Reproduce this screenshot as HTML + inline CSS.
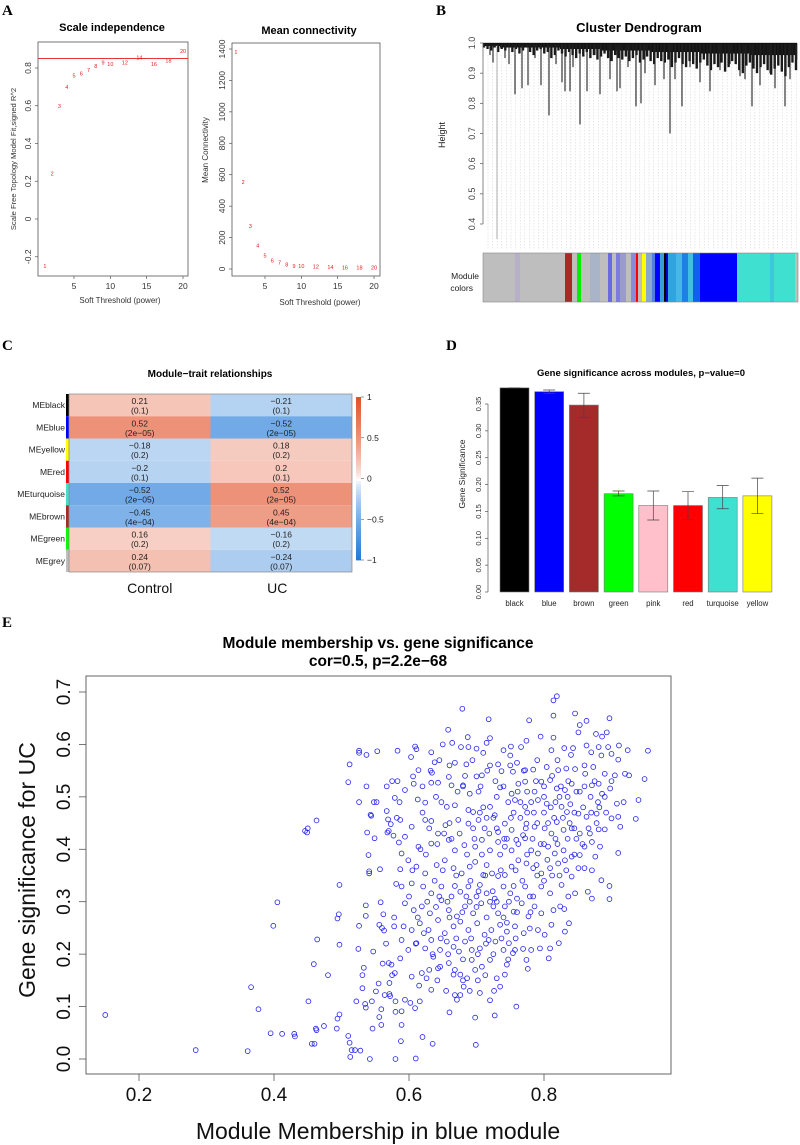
<!DOCTYPE html>
<html><head><meta charset="utf-8">
<style>
html,body{margin:0;padding:0;background:#fff;}
svg{display:block;font-family:"Liberation Sans",Arial,sans-serif;}
.pl{font-family:"Liberation Serif",serif;font-weight:bold;font-size:15px;}
</style></head>
<body>
<svg id="fig" width="800" height="1145" viewBox="0 0 800 1145" xmlns="http://www.w3.org/2000/svg">
<rect x="0" y="0" width="800" height="1145" fill="#fff"/>
<text class="pl" x="2" y="15">A</text>
<text class="pl" x="436" y="15">B</text>
<text class="pl" x="2" y="350">C</text>
<text class="pl" x="446" y="350">D</text>
<text class="pl" x="2" y="627">E</text>
<g id="pa"></g><g id="pb"></g><g id="pc"></g><g id="pd"></g><g id="pe"></g>
</svg>
<script>
// ---------- Panel A data ----------
const powers = [1,2,3,4,5,6,7,8,9,10,12,14,16,18,20];
const sftR2 = [-0.25,0.24,0.6,0.7,0.76,0.77,0.79,0.81,0.83,0.82,0.83,0.855,0.82,0.84,0.89];
const meanK = [1380,555,275,150,85,55,40,30,20,18,15,12,10,9,8];
const r2Cut = 0.85;
const aYTicks = [-0.2,0,0.2,0.4,0.6,0.8];
const kYTicks = [0,200,400,600,800,1000,1200,1400];
const powerTicks = [5,10,15,20];
// ---------- Panel B data ----------
const heightTicks = [0.4,0.5,0.6,0.7,0.8,0.9,1.0];
const leafPos = [490,493,497,505,509,515,522,528,535,541,549,556,562,565,570,573,580,587,595,600,610,617,620,628,636,641,645,655,664,670,675,682,690,700,710,720,730,740,745,752,760,770,775,785,790,796];
const leafH = [0.96,0.935,0.35,0.95,0.93,0.83,0.85,0.86,0.95,0.86,0.76,0.93,0.87,0.84,0.84,0.92,0.73,0.84,0.96,0.83,0.88,0.84,0.85,0.92,0.79,0.80,0.9,0.86,0.88,0.7,0.88,0.79,0.92,0.87,0.84,0.91,0.93,0.89,0.88,0.79,0.86,0.9,0.85,0.79,0.88,0.92];
const hairH = [0.985,0.98,0.975,0.985,0.97,0.98,0.975,0.985,0.97,0.98,0.965,0.975,0.985,0.97,0.96,0.975,0.98,0.965,0.97,0.95,0.96,0.975,0.965,0.955,0.97,0.96,0.95,0.965,0.955,0.97,0.95,0.96,0.945,0.955,0.965,0.95,0.94,0.96,0.95,0.945,0.955,0.94,0.95,0.96,0.935,0.945,0.955,0.94,0.93,0.95,0.94,0.935,0.945,0.92,0.935,0.95,0.93,0.92,0.94,0.93,0.915,0.935,0.945,0.925,0.91,0.93,0.92,0.935,0.905,0.92,0.94,0.93,0.91,0.9,0.925,0.935,0.915,0.9,0.92,0.93,0.91,0.895,0.915,0.925,0.905,0.89,0.92,0.935,0.91];
const bandStart = [483,500,560,600,650,700,750];
const bandEnd = [500,560,600,650,700,750,797];
const bandH = [0.99,0.985,0.98,0.975,0.97,0.965,0.96];
const modStart = [483,515,520,544,565,572,577,581,590,600,608,612,616,620,626,631,636,638,642,646,652,655,660,664,666,668,676,682,688,693,700,737,770,774,795];
const modEnd =   [515,520,544,565,572,577,581,590,600,608,612,616,620,626,631,636,638,642,646,652,655,660,664,666,668,676,682,688,693,700,737,770,774,795,798];
const modCol = ['#bebebe','#b8b0c8','#bebebe','#bebebe','#a52a2a','#bebebe','#00ee00','#bebebe','#a9b4c8','#bebebe','#6a6adf','#bebebe','#7b7be0','#9a9acd','#bebebe','#8a8ad6','#ff0000','#bebebe','#ffff00','#87a8d0','#4f7fdf','#0000ff','#3a9ed8','#000000','#0000cc','#2fa4e0','#48b6e6','#1e7fe6','#40c0e0','#1060f0','#0000ff','#40e0d0','#3cc8d8','#40e0d0','#bebebe'];
// ---------- Panel C data ----------
const mods = ['MEblack','MEblue','MEyellow','MEred','MEturquoise','MEbrown','MEgreen','MEgrey'];
const modColors = ['#000000','#0000ff','#ffff00','#ff0000','#40e0d0','#a52a2a','#00ff00','#bebebe'];
const corControl = [0.21,0.52,-0.18,-0.2,-0.52,-0.45,0.16,0.24];
const corUC = [-0.21,-0.52,0.18,0.2,0.52,0.45,-0.16,-0.24];
const pvals = ['(0.1)','(2e−05)','(0.2)','(0.1)','(2e−05)','(4e−04)','(0.2)','(0.07)'];
const traits = ['Control','UC'];
const legendTicks = [1,0.5,0,-0.5,-1];
// ---------- Panel D data ----------
const gsMods = ['black','blue','brown','green','pink','red','turquoise','yellow'];
const gsCols = ['#000000','#0000ff','#a52a2a','#00ff00','#ffc0cb','#ff0000','#40e0d0','#ffff00'];
const gsMean = [0.380,0.373,0.348,0.183,0.161,0.161,0.176,0.179];
const gsLo = [0.380,0.370,0.325,0.179,0.134,0.135,0.155,0.146];
const gsHi = [0.380,0.376,0.370,0.188,0.188,0.187,0.198,0.212];
const gsTicks = [0,0.05,0.1,0.15,0.2,0.25,0.3,0.35];
// ---------- Panel E data ----------
const mmTicks = [0.2,0.4,0.6,0.8];
const gsTicksE = [0,0.1,0.2,0.3,0.4,0.5,0.6,0.7];
const genePoints = [
[0.15,0.084],[0.284,0.017],[0.361,0.015],[0.366,0.137],[0.377,0.095],[0.395,0.049],[0.399,0.254],[0.405,0.299],[0.412,0.048],[0.43,0.048],[0.431,0.043],[0.446,0.435],[0.45,0.44],[0.449,0.432],[0.451,0.11],[0.456,0.029],[0.46,0.029],[0.463,0.455],[0.464,0.228],[0.459,0.181],[0.462,0.058],[0.463,0.055],[0.474,0.063],[0.48,0.16],[0.493,0.058],[0.494,0.077],[0.494,0.268],[0.496,0.276],[0.497,0.332],[0.497,0.218],[0.497,0.085],[0.51,0.044],[0.512,0.031],[0.513,0.004],[0.512,0.562],[0.51,0.528],[0.515,0.017],[0.52,0.017],[0.522,0.11],[0.525,0.21],[0.526,0.254],[0.526,0.49],[0.526,0.588],[0.526,0.584],[0.528,0.016],[0.531,0.16],[0.531,0.135],[0.533,0.174],[0.535,0.105],[0.536,0.098],[0.536,0.293],[0.536,0.273],[0.537,0.58],[0.537,0.52],[0.538,0.432],[0.54,0.389],[0.541,0.358],[0.541,0.354],[0.543,0.466],[0.544,0.464],[0.542,0.0],[0.545,0.11],[0.546,0.058],[0.547,0.205],[0.548,0.49],[0.549,0.421],[0.551,0.129],[0.552,0.49],[0.553,0.587],[0.555,0.144],[0.556,0.08],[0.556,0.256],[0.557,0.362],[0.558,0.299],[0.559,0.065],[0.559,0.095],[0.56,0.25],[0.561,0.182],[0.562,0.276],[0.563,0.245],[0.564,0.122],[0.566,0.22],[0.567,0.52],[0.567,0.473],[0.568,0.432],[0.569,0.457],[0.57,0.435],[0.57,0.183],[0.571,0.145],[0.571,0.124],[0.572,0.12],[0.573,0.448],[0.574,0.18],[0.575,0.53],[0.575,0.16],[0.577,0.426],[0.578,0.27],[0.578,0.253],[0.579,0.498],[0.579,0.164],[0.58,0.0],[0.58,0.11],[0.58,0.09],[0.581,0.334],[0.582,0.46],[0.583,0.588],[0.583,0.53],[0.585,0.413],[0.586,0.49],[0.587,0.362],
[0.819,0.692],[0.814,0.684],[0.679,0.668],[0.718,0.648],[0.778,0.646],[0.814,0.655],[0.846,0.659],[0.897,0.65],[0.853,0.637],[0.863,0.645],[0.658,0.628],[0.687,0.614],[0.72,0.612],[0.795,0.615],[0.814,0.613],[0.851,0.623],[0.877,0.62],[0.893,0.623],[0.886,0.615],[0.774,0.607],[0.664,0.603],[0.65,0.6],[0.677,0.595],[0.688,0.595],[0.7,0.592],[0.715,0.603],[0.751,0.596],[0.766,0.595],[0.609,0.596],[0.611,0.591],[0.633,0.585],[0.71,0.584],[0.74,0.589],[0.75,0.579],[0.811,0.589],[0.83,0.593],[0.843,0.593],[0.863,0.598],[0.881,0.595],[0.895,0.595],[0.911,0.598],[0.924,0.589],[0.954,0.588],[0.87,0.585],[0.885,0.579],[0.9,0.582],[0.91,0.571],
[0.603,0.576],[0.638,0.566],[0.668,0.565],[0.685,0.562],[0.72,0.56],[0.732,0.562],[0.76,0.565],[0.772,0.551],[0.784,0.552],[0.804,0.557],[0.821,0.551],[0.833,0.554],[0.846,0.553],[0.861,0.544],[0.873,0.557],[0.89,0.544],[0.905,0.541],[0.92,0.544],[0.926,0.541],[0.949,0.534],[0.606,0.539],[0.614,0.551],[0.634,0.546],[0.659,0.538],[0.7,0.539],[0.708,0.541],[0.737,0.549],[0.754,0.548],
[0.594,0.513],[0.607,0.525],[0.633,0.527],[0.643,0.527],[0.663,0.522],[0.68,0.522],[0.69,0.506],[0.703,0.51],[0.735,0.518],[0.752,0.506],[0.762,0.525],[0.772,0.529],[0.786,0.51],[0.796,0.529],[0.809,0.532],[0.819,0.516],[0.831,0.513],[0.841,0.525],[0.853,0.51],[0.871,0.522],[0.881,0.525],[0.886,0.506],[0.898,0.516],[0.94,0.494],[0.918,0.49],[0.936,0.458],[0.908,0.487],[0.91,0.462],
[0.613,0.495],[0.624,0.489],[0.648,0.49],[0.656,0.481],[0.668,0.484],[0.688,0.475],[0.695,0.471],[0.72,0.481],[0.727,0.465],[0.747,0.49],[0.757,0.494],[0.772,0.481],[0.781,0.49],[0.791,0.494],[0.804,0.487],[0.817,0.49],[0.826,0.481],[0.834,0.471],[0.839,0.486],[0.851,0.468],[0.863,0.462],[0.878,0.468],[0.9,0.459],[0.913,0.443],[0.91,0.393],
[0.587,0.456],[0.604,0.443],[0.624,0.456],[0.633,0.454],[0.654,0.446],[0.673,0.456],[0.688,0.449],[0.703,0.456],[0.712,0.44],[0.732,0.433],[0.742,0.449],[0.752,0.437],[0.769,0.427],[0.774,0.449],[0.786,0.443],[0.801,0.44],[0.811,0.43],[0.819,0.452],[0.829,0.437],[0.841,0.44],[0.853,0.43],[0.868,0.43],[0.881,0.438],[0.89,0.438],[0.871,0.414],[0.883,0.405],[0.876,0.386],
[0.594,0.424],[0.614,0.405],[0.633,0.411],[0.643,0.43],[0.659,0.418],[0.668,0.398],[0.682,0.408],[0.698,0.405],[0.708,0.418],[0.72,0.398],[0.732,0.414],[0.742,0.405],[0.752,0.398],[0.759,0.418],[0.772,0.421],[0.781,0.398],[0.791,0.392],[0.806,0.405],[0.816,0.392],[0.829,0.398],[0.841,0.386],[0.853,0.389],[0.86,0.405],[0.589,0.392],
[0.599,0.379],[0.611,0.367],[0.624,0.354],[0.641,0.37],[0.653,0.379],[0.666,0.364],[0.678,0.354],[0.69,0.367],[0.698,0.376],[0.71,0.351],[0.723,0.354],[0.732,0.349],[0.742,0.351],[0.752,0.367],[0.762,0.379],[0.774,0.373],[0.784,0.364],[0.796,0.354],[0.809,0.364],[0.821,0.373],[0.831,0.379],[0.841,0.348],[0.851,0.364],[0.86,0.364],[0.871,0.36],[0.885,0.341],[0.897,0.33],[0.897,0.305],
[0.589,0.329],[0.604,0.335],[0.621,0.329],[0.633,0.316],[0.648,0.329],[0.663,0.31],[0.676,0.319],[0.688,0.329],[0.705,0.332],[0.715,0.316],[0.727,0.306],[0.74,0.329],[0.75,0.316],[0.76,0.306],[0.772,0.329],[0.784,0.31],[0.796,0.329],[0.809,0.316],[0.826,0.332],[0.836,0.31],[0.846,0.316],[0.865,0.319],[0.871,0.306],
[0.594,0.297],[0.607,0.284],[0.619,0.291],[0.631,0.278],[0.648,0.303],[0.659,0.284],[0.671,0.272],[0.683,0.291],[0.695,0.278],[0.707,0.297],[0.725,0.291],[0.732,0.278],[0.742,0.291],[0.755,0.281],[0.767,0.297],[0.777,0.272],[0.786,0.291],[0.796,0.278],[0.814,0.284],[0.824,0.291],[0.83,0.286],[0.837,0.259],[0.831,0.243],[0.822,0.221],
[0.592,0.253],[0.604,0.246],[0.616,0.259],[0.629,0.246],[0.643,0.265],[0.653,0.24],[0.666,0.253],[0.676,0.262],[0.688,0.246],[0.701,0.259],[0.712,0.237],[0.722,0.246],[0.735,0.256],[0.745,0.243],[0.757,0.253],[0.77,0.24],[0.779,0.249],[0.791,0.246],[0.801,0.237],[0.811,0.256],[0.809,0.211],
[0.589,0.227],[0.599,0.208],[0.611,0.221],[0.624,0.211],[0.633,0.227],[0.646,0.208],[0.656,0.224],[0.666,0.214],[0.674,0.205],[0.683,0.224],[0.693,0.208],[0.705,0.211],[0.718,0.227],[0.728,0.224],[0.74,0.208],[0.748,0.221],[0.757,0.208],[0.774,0.189],[0.776,0.172],[0.781,0.208],[0.794,0.211],[0.807,0.192],
[0.587,0.192],[0.604,0.157],[0.619,0.164],[0.626,0.154],[0.636,0.195],[0.646,0.176],[0.659,0.183],[0.666,0.161],[0.676,0.161],[0.686,0.154],[0.693,0.189],[0.698,0.17],[0.708,0.176],[0.72,0.189],[0.73,0.154],[0.735,0.138],[0.742,0.161],[0.754,0.202],[0.633,0.132],[0.643,0.173],
[0.594,0.113],[0.602,0.107],[0.609,0.097],[0.616,0.11],[0.589,0.091],[0.668,0.122],[0.676,0.122],[0.671,0.113],[0.705,0.126],[0.72,0.112],[0.681,0.138],[0.66,0.089],[0.698,0.079],[0.727,0.083],[0.759,0.1],[0.589,0.065],[0.588,0.034],[0.62,0.042],[0.635,0.029],[0.699,0.027],[0.61,0.001],
[0.695,0.44],[0.705,0.47],[0.73,0.5],[0.745,0.42],[0.765,0.46],[0.785,0.47],[0.8,0.5],[0.815,0.46],[0.825,0.52],[0.835,0.5],[0.845,0.47],[0.715,0.37],[0.735,0.39],[0.755,0.33],[0.775,0.39],[0.79,0.35],[0.805,0.38],[0.67,0.35],[0.685,0.31],[0.7,0.29],[0.715,0.27],[0.73,0.3],[0.745,0.26],[0.66,0.27],[0.64,0.29],[0.65,0.36],[0.625,0.39],[0.62,0.47],[0.64,0.5],[0.66,0.45],[0.68,0.52],[0.77,0.55],[0.79,0.57],[0.82,0.57],[0.84,0.58],[0.86,0.56],[0.875,0.53],[0.89,0.5],[0.9,0.53],
[0.6,0.31],[0.613,0.27],[0.627,0.3],[0.638,0.34],[0.645,0.31],[0.657,0.3],[0.668,0.33],[0.679,0.28],[0.691,0.34],[0.703,0.32],[0.713,0.35],[0.724,0.32],[0.736,0.36],[0.748,0.3],[0.758,0.36],[0.768,0.34],[0.779,0.31],[0.789,0.37],[0.8,0.34],[0.812,0.35],[0.823,0.35],[0.833,0.36],[0.845,0.39],[0.857,0.41],[0.866,0.44],[0.878,0.45],
[0.605,0.36],[0.617,0.4],[0.63,0.44],[0.642,0.41],[0.652,0.43],[0.663,0.42],[0.675,0.43],[0.686,0.39],[0.697,0.42],[0.708,0.39],[0.719,0.43],[0.73,0.44],[0.741,0.42],[0.751,0.46],[0.762,0.41],[0.773,0.44],[0.783,0.42],[0.795,0.41],[0.806,0.45],[0.817,0.42],[0.828,0.46],[0.838,0.45],[0.848,0.42],[0.858,0.48],[0.869,0.5],[0.88,0.49],[0.892,0.47],
[0.61,0.22],[0.622,0.24],[0.635,0.2],[0.647,0.23],[0.658,0.2],[0.67,0.23],[0.68,0.19],[0.692,0.23],[0.702,0.2],[0.714,0.22],[0.725,0.2],[0.737,0.23],[0.747,0.19],[0.758,0.23],[0.769,0.21],[0.615,0.14],[0.63,0.17],[0.642,0.15],[0.655,0.13],[0.668,0.17],[0.68,0.15],[0.69,0.13],[0.702,0.15],[0.713,0.16],[0.726,0.13],[0.745,0.18],
[0.62,0.52],[0.632,0.55],[0.645,0.57],[0.66,0.56],[0.672,0.51],[0.683,0.54],[0.694,0.57],[0.706,0.52],[0.716,0.55],[0.728,0.53],[0.74,0.52],[0.75,0.56],[0.761,0.51],[0.775,0.51],[0.788,0.53],[0.8,0.52],[0.812,0.54],[0.823,0.5],[0.836,0.53],[0.848,0.51],[0.86,0.52],[0.87,0.47],[0.882,0.48],[0.79,0.45],[0.8,0.47],[0.81,0.48],[0.775,0.47],[0.765,0.49],[0.755,0.47],[0.725,0.46],[0.715,0.46],[0.71,0.48],[0.8,0.41],[0.82,0.41],[0.835,0.42],[0.845,0.44],[0.78,0.28],[0.76,0.28],[0.74,0.27],[0.72,0.3],[0.7,0.31],[0.69,0.3]
];

const NS='http://www.w3.org/2000/svg';
function mk(tag, attrs, parent, txt){
  const e=document.createElementNS(NS,tag);
  for(const k in attrs) e.setAttribute(k,attrs[k]);
  if(txt!==undefined) e.textContent=txt;
  parent.appendChild(e);
  return e;
}
function lin(d0,d1,r0,r1){return v=>r0+(v-d0)*(r1-r0)/(d1-d0);}

// ================= Panel A left =================
(function(){
  const g=document.getElementById('pa');
  const x=lin(5,20,74,183), y=lin(0,0.8,219,68);
  let t=mk('text',{x:112,y:31,'text-anchor':'middle','font-size':'11','font-weight':'bold'},g,'Scale independence');
  
  
  let b=mk('rect',{x:38,y:42,width:150,height:234,fill:'none',stroke:'#555','stroke-width':0.8},g);
  
  
  aYTicks.forEach(v=>{
    mk('line',{x1:35,x2:38,y1:y(v),y2:y(v),stroke:'#555','stroke-width':0.7},g);
    const yy=y(v);
    const l=mk('text',{x:31,y:yy,'font-size':'8.5','text-anchor':'middle',fill:'#333',transform:`rotate(-90 31 ${yy})`},g,v===0?'0':(v<0?'-':'')+Math.abs(v).toFixed(1));
    
    
  });
  powerTicks.forEach(v=>{
    mk('line',{x1:x(v),x2:x(v),y1:276,y2:279,stroke:'#555','stroke-width':0.7},g);
    const l=mk('text',{x:x(v),y:289,'font-size':'8.5','text-anchor':'middle',fill:'#333'},g,String(v));
    
    
  });
  let yl=mk('text',{x:16,y:159,'font-size':'7.6','text-anchor':'middle',fill:'#333',transform:'rotate(-90 16 159)'},g,'Scale Free Topology Model Fit,signed R^2');
  
  
  let xl=mk('text',{x:120,y:303,'font-size':'8','text-anchor':'middle',fill:'#333'},g,'Soft Threshold (power)');
  
  
  const cut=mk('line',{x1:38,x2:188,y1:y(r2Cut),y2:y(r2Cut),stroke:'#e41a1c','stroke-width':0.9},g);
  
  
  powers.forEach((p,i)=>{
    const m=mk('text',{x:x(p),y:y(sftR2[i])+2,'font-size':'5.5','text-anchor':'middle',fill:'#e41a1c'},g,String(p));
    
    
  });
})();
// ================= Panel A right =================
(function(){
  const g=document.getElementById('pa');
  const x=lin(5,20,265,374), y=lin(0,1400,269,49);
  let t=mk('text',{x:309,y:34,'text-anchor':'middle','font-size':'11','font-weight':'bold'},g,'Mean connectivity');
  
  
  let b=mk('rect',{x:232,y:43,width:148,height:233,fill:'none',stroke:'#555','stroke-width':0.8},g);
  
  
  kYTicks.forEach(v=>{
    const yy=y(v);
    mk('line',{x1:229,x2:232,y1:yy,y2:yy,stroke:'#555','stroke-width':0.7},g);
    const l=mk('text',{x:225,y:yy,'font-size':'8.5','text-anchor':'middle',fill:'#333',transform:`rotate(-90 225 ${yy})`},g,String(v));
    
    
  });
  powerTicks.forEach(v=>{
    mk('line',{x1:x(v),x2:x(v),y1:276,y2:279,stroke:'#555','stroke-width':0.7},g);
    const l=mk('text',{x:x(v),y:289,'font-size':'8.5','text-anchor':'middle',fill:'#333'},g,String(v));
    
    
  });
  let yl=mk('text',{x:208,y:150,'font-size':'8','text-anchor':'middle',fill:'#333',transform:'rotate(-90 208 150)'},g,'Mean Connectivity');
  
  
  let xl=mk('text',{x:320,y:305,'font-size':'8','text-anchor':'middle',fill:'#333'},g,'Soft Threshold (power)');
  
  
  powers.forEach((p,i)=>{
    const m=mk('text',{x:x(p),y:y(meanK[i])+2,'font-size':'5.5','text-anchor':'middle',fill:'#e41a1c'},g,String(p));
    
    
  });
})();
// ================= Panel B =================
(function(){
  const g=document.getElementById('pb');
  const y=lin(0.4,1.0,224,43);
  let t=mk('text',{x:639,y:32,'text-anchor':'middle','font-size':'13','font-weight':'bold'},g,'Cluster Dendrogram');
  
  
  for(let xx=488;xx<797;xx+=4.6){
    mk('line',{x1:xx,x2:xx,y1:55,y2:250,stroke:'#cfcfcf','stroke-width':0.5,'stroke-dasharray':'1.5,1.5'},g);
  }
  mk('line',{x1:483,x2:797,y1:43,y2:43,stroke:'#555','stroke-width':0.6},g);
  mk('line',{x1:797,x2:797,y1:43,y2:60,stroke:'#555','stroke-width':0.6},g);
  bandStart.forEach((s,i)=>{
    const r=mk('rect',{x:s,y:43,width:bandEnd[i]-s,height:y(bandH[i])-43,fill:'#111'},g);
    
    
  });
  const hairStep=(796-484)/(hairH.length-1);
  hairH.forEach((h,i)=>{
    const hx=484+i*hairStep;
    const l=mk('line',{x1:hx,x2:hx,y1:44,y2:y(h),stroke:'#1a1a1a','stroke-width':2.4},g);
    
    
  });
  leafPos.forEach((p,i)=>{
    const l=mk('line',{x1:p,x2:p,y1:45,y2:y(leafH[i]),stroke:leafH[i]<0.5?'#777':'#222','stroke-width':leafH[i]<0.5?0.6:1.1},g);
    
    
  });
  mk('line',{x1:483,x2:483,y1:43,y2:224,stroke:'#555','stroke-width':0.7},g);
  heightTicks.forEach(v=>{
    const yy=y(v);
    mk('line',{x1:480,x2:483,y1:yy,y2:yy,stroke:'#555','stroke-width':0.7},g);
    const l=mk('text',{x:475,y:yy,'font-size':'9','text-anchor':'middle',fill:'#444',transform:`rotate(-90 475 ${yy})`},g,v.toFixed(1));
    
    
  });
  let hl=mk('text',{x:445,y:135,'font-size':'9','text-anchor':'middle',fill:'#222',transform:'rotate(-90 445 135)'},g,'Height');
  
  
  modStart.forEach((s,i)=>{
    const r=mk('rect',{x:s,y:253,width:modEnd[i]-s,height:49,fill:modCol[i]},g);
    
    
  });
  mk('rect',{x:483,y:253,width:315,height:49,fill:'none',stroke:'#888','stroke-width':0.6},g);
  let ml=mk('text',{x:479,y:279,'font-size':'8.5','text-anchor':'end',fill:'#222'},g,'Module');
  
  
  mk('text',{x:473,y:291,'font-size':'8.5','text-anchor':'end',fill:'#222'},g,'colors');
})();
// ================= Panel C =================
function heatColor(v){
  const t=Math.pow(Math.abs(v),0.7);
  const end=v>=0?[226,83,43]:[30,120,215];
  const c=end.map(e=>Math.round(255+(e-255)*t));
  return `rgb(${c[0]},${c[1]},${c[2]})`;
}
(function(){
  const g=document.getElementById('pc');
  const L=69,R=352,T=394,B=572, rh=(B-T)/mods.length, cw=(R-L)/2;
  let t=mk('text',{x:210,y:377,'text-anchor':'middle','font-size':'10','font-weight':'bold'},g,'Module−trait relationships');
  
  
  const cols=[corControl,corUC];
  mods.forEach((m,i)=>{
    const yy=T+i*rh;
    cols.forEach((arr,j)=>{
      const c=mk('rect',{x:L+j*cw,y:yy,width:cw,height:rh,fill:heatColor(arr[i])},g);
      
      
      const v=arr[i], s=(v<0?'−':'')+String(Math.abs(v));
      const a=mk('text',{x:L+j*cw+cw/2,y:yy+10,'text-anchor':'middle','font-size':'8.5',fill:'#222'},g,s);
      
      
      const p=mk('text',{x:L+j*cw+cw/2,y:yy+19.5,'text-anchor':'middle','font-size':'8.5',fill:'#222'},g,pvals[i]);
      
      
    });
    const sw=mk('rect',{x:66,y:yy,width:3,height:rh,fill:modColors[i]},g);
    
    
    const lb=mk('text',{x:65,y:yy+rh/2+3,'text-anchor':'end','font-size':'8.5',fill:'#222'},g,m);
    
    
  });
  mk('rect',{x:L,y:T,width:R-L,height:B-T,fill:'none',stroke:'#888','stroke-width':0.7},g);
  traits.forEach((tr,j)=>{
    const l=mk('text',{x:L+j*cw+cw/2+(j?-4:10),y:593,'text-anchor':'middle','font-size':'14',fill:'#111'},g,tr);
    
    
  });
  const lt=397, lb2=560;
  for(let k=0;k<60;k++){
    const v=1-2*k/60;
    mk('rect',{x:356,y:lt+k*(lb2-lt)/60,width:5,height:(lb2-lt)/60+0.4,fill:heatColor(v)},g);
  }
  const ly=lin(1,-1,lt,lb2);
  legendTicks.forEach(v=>{
    mk('line',{x1:361,x2:364,y1:ly(v),y2:ly(v),stroke:'#555','stroke-width':0.6},g);
    const l=mk('text',{x:367,y:ly(v)+3,'font-size':'8.5',fill:'#222'},g,(v<0?'−':'')+String(Math.abs(v)));
    
    
  });
})();
// ================= Panel D =================
(function(){
  const g=document.getElementById('pd');
  const y=lin(0,0.35,592,404), x0=500, step=34.7, bw=29;
  let t=mk('text',{x:641,y:376,'text-anchor':'middle','font-size':'9.5','font-weight':'bold'},g,'Gene significance across modules, p−value=0');
  
  
  mk('line',{x1:488,x2:488,y1:y(0),y2:y(0.35),stroke:'#555','stroke-width':0.7},g);
  gsTicks.forEach(v=>{
    const yy=y(v);
    mk('line',{x1:485,x2:488,y1:yy,y2:yy,stroke:'#555','stroke-width':0.7},g);
    const l=mk('text',{x:481,y:yy,'font-size':'7.5','text-anchor':'middle',fill:'#333',transform:`rotate(-90 481 ${yy})`},g,v.toFixed(2));
    
    
  });
  let yl=mk('text',{x:465,y:474,'font-size':'8.5','text-anchor':'middle',fill:'#222',transform:'rotate(-90 465 474)'},g,'Gene Significance');
  
  
  gsMods.forEach((m,i)=>{
    const bx=x0+i*step;
    const r=mk('rect',{x:bx,y:y(gsMean[i]),width:bw,height:y(0)-y(gsMean[i]),fill:gsCols[i],stroke:'#777','stroke-width':0.6},g);
    
    
    const cx=bx+bw/2;
    const e=mk('path',{d:`M${cx},${y(gsLo[i])}V${y(gsHi[i])}M${cx-6},${y(gsLo[i])}H${cx+6}M${cx-6},${y(gsHi[i])}H${cx+6}`,stroke:'#444','stroke-width':0.7,fill:'none'},g);
    
    
    const l=mk('text',{x:cx,y:606,'font-size':'7.8','text-anchor':'middle',fill:'#222'},g,m);
    
    
  });
})();
// ================= Panel E =================
(function(){
  const g=document.getElementById('pe');
  const x=lin(0.2,0.8,139,544), y=lin(0,0.7,1059,692);
  let t1=mk('text',{x:378,y:648,'text-anchor':'middle','font-size':'15.5','font-weight':'bold'},g,'Module membership vs. gene significance');
  
  
  let t2=mk('text',{x:378,y:666,'text-anchor':'middle','font-size':'15.5','font-weight':'bold'},g,'cor=0.5, p=2.2e−68');
  
  
  const b=mk('rect',{x:86,y:676,width:585,height:398,fill:'none',stroke:'#555','stroke-width':0.9},g);
  
  
  gsTicksE.forEach(v=>{
    const yy=y(v);
    mk('line',{x1:79,x2:86,y1:yy,y2:yy,stroke:'#555','stroke-width':0.8},g);
    const l=mk('text',{x:70,y:yy,'font-size':'19','text-anchor':'middle',fill:'#111',transform:`rotate(-90 70 ${yy})`},g,v.toFixed(1));
    
    
  });
  mmTicks.forEach(v=>{
    mk('line',{x1:x(v),x2:x(v),y1:1074,y2:1081,stroke:'#555','stroke-width':0.8},g);
    const l=mk('text',{x:x(v),y:1101,'font-size':'19','text-anchor':'middle',fill:'#111'},g,v.toFixed(1));
    
    
  });
  let yl=mk('text',{x:35,y:870,'font-size':'23','text-anchor':'middle',fill:'#111',transform:'rotate(-90 35 870)'},g,'Gene significance for UC');
  
  
  let xl=mk('text',{x:378,y:1139,'font-size':'23','text-anchor':'middle',fill:'#111'},g,'Module Membership in blue module');
  
  
  genePoints.forEach(p=>{
    const c=mk('circle',{cx:x(p[0]),cy:y(p[1]),r:2.4,fill:'none',stroke:'#2020ee','stroke-width':0.8},g);
    
    
  });
})();
</script>
</body></html>
